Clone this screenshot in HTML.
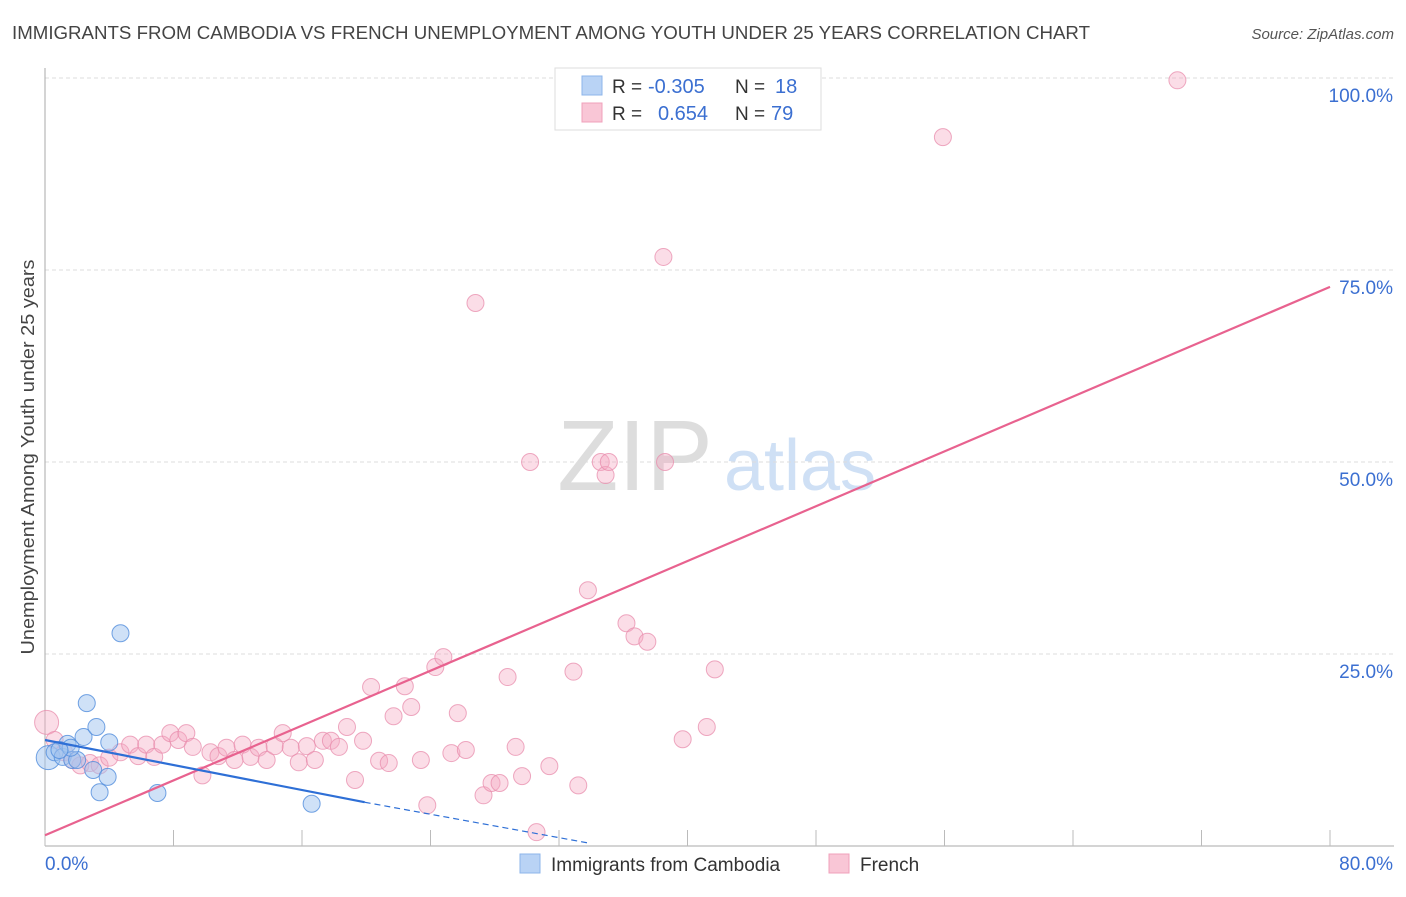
<!DOCTYPE html>
<html><head><meta charset="utf-8"><style>
body{margin:0;background:#fff;font-family:"Liberation Sans",sans-serif;}
svg text{font-family:"Liberation Sans",sans-serif;}
</style></head><body>
<svg id="chart" width="1406" height="892" viewBox="0 0 1406 892">
<text x="12" y="39" font-size="18" fill="#444" textLength="1078" lengthAdjust="spacingAndGlyphs">IMMIGRANTS FROM CAMBODIA VS FRENCH UNEMPLOYMENT AMONG YOUTH UNDER 25 YEARS CORRELATION CHART</text>
<text x="1394" y="39" font-size="15" fill="#555" text-anchor="end" font-style="italic">Source: ZipAtlas.com</text>
<g>
<text x="635" y="490" font-size="100" fill="#ddd" text-anchor="middle" font-family="Liberation Serif">ZIP</text>
<text x="800" y="490" font-size="72" fill="#cfe0f5" text-anchor="middle">atlas</text>
</g>
<g id="grid"></g>
<g id="axes"></g>
<g id="marks"></g>
<text transform="translate(34,457) rotate(-90)" font-size="18" fill="#444" text-anchor="middle" textLength="395" lengthAdjust="spacingAndGlyphs">Unemployment Among Youth under 25 years</text>
<g>
<rect x="555" y="68" width="266" height="62" fill="#fff" stroke="#ddd"/>
<rect x="582" y="76" width="20" height="19" fill="#b9d3f5" stroke="#8db4ea"/>
<rect x="582" y="103" width="20" height="19" fill="#f9c6d6" stroke="#f0a0bb"/>
<text x="612" y="93" font-size="19" fill="#333">R =</text>
<text x="648" y="93" font-size="20" fill="#3b6fd1">-0.305</text>
<text x="735" y="93" font-size="19" fill="#333">N =</text>
<text x="775" y="93" font-size="20" fill="#3b6fd1">18</text>
<text x="612" y="120" font-size="19" fill="#333">R =</text>
<text x="658" y="120" font-size="20" fill="#3b6fd1">0.654</text>
<text x="735" y="120" font-size="19" fill="#333">N =</text>
<text x="771" y="120" font-size="20" fill="#3b6fd1">79</text>
</g>
<g>
<rect x="520" y="854" width="20" height="19" fill="#b9d3f5" stroke="#8db4ea"/>
<text x="551" y="871" font-size="19" fill="#333">Immigrants from Cambodia</text>
<rect x="829" y="854" width="20" height="19" fill="#f9c6d6" stroke="#f0a0bb"/>
<text x="860" y="871" font-size="19" fill="#333">French</text>
</g>
</svg>
<script>
const blueX=[0.2,0.6,1.1,1.4,1.7,2.0,2.4,2.6,3.2,3.0,3.4,3.9,4.0,4.7,7.0,16.6,1.6,0.9];
const blueY=[11.5,12.2,11.6,13.3,11.2,11.2,14.2,18.6,15.5,9.9,7.0,9.0,13.5,27.7,6.9,5.5,12.8,12.5];
const pinkX=[0.1,0.6,1.2,1.7,2.2,2.8,3.4,4.0,4.7,5.3,5.8,6.3,6.8,7.3,7.8,8.3,8.8,9.2,9.8,10.3,10.8,11.3,11.8,12.3,12.8,13.3,13.8,14.3,14.8,15.3,15.8,16.3,16.8,17.3,17.8,18.3,18.8,19.3,19.8,20.3,20.8,21.4,21.7,22.4,22.8,23.4,23.8,24.3,24.8,25.3,25.7,26.2,26.8,27.3,27.8,28.3,28.8,29.3,29.7,30.2,30.6,31.4,32.9,33.2,33.8,34.6,34.9,35.1,36.2,36.7,37.5,38.5,38.6,39.7,41.2,41.7,55.9,70.5];
const pinkY=[16.1,13.8,12.2,11.2,10.5,10.8,10.5,11.5,12.2,13.2,11.7,13.2,11.6,13.2,14.7,13.8,14.7,12.9,9.2,12.2,11.7,12.8,11.2,13.2,11.6,12.8,11.2,13.0,14.7,12.8,10.9,13.0,11.2,13.7,13.7,12.9,15.5,8.6,13.7,20.7,11.1,10.8,16.9,20.8,18.1,11.2,5.3,23.3,24.6,12.1,17.3,12.5,70.7,6.6,8.2,8.2,22.0,12.9,9.1,50.0,1.8,10.4,22.7,7.9,33.3,50.0,48.3,50.0,29.0,27.3,26.6,76.7,50.0,13.9,15.5,23.0,92.3,99.7];
const blueTrend=[[0,13.8],[19.9,5.7],[33.8,0.4]];
const pinkTrend=[[0,1.4],[80,72.8]];
const yTicks=[25,50,75,100];
const yTickLabels=["25.0%","50.0%","75.0%","100.0%"];
const xTicks=[0,8,16,24,32,40,48,56,64,72,80];

const NS="http://www.w3.org/2000/svg";
const sx=v=>45+v*(1330-45)/80;
const sy=v=>846-v*7.68;
function mk(tag,attrs,parent){const e=document.createElementNS(NS,tag);for(const k in attrs)e.setAttribute(k,attrs[k]);parent.appendChild(e);return e;}
const grid=document.getElementById('grid'),axes=document.getElementById('axes'),marks=document.getElementById('marks');
yTicks.forEach((t,i)=>{
  const l=mk('line',{x1:45,x2:1394,y1:sy(t),y2:sy(t),stroke:'#ddd','stroke-dasharray':'4,3'},grid);
  
  
  const tx=mk('text',{x:1393,y:sy(t)+24,'font-size':19,fill:'#3b6fd1','text-anchor':'end'},axes);
  tx.textContent=yTickLabels[i];
  
  
});
const al=mk('line',{x1:45,x2:45,y1:68,y2:846,stroke:'#aaa'},axes);


const bl=mk('line',{x1:45,x2:1394,y1:846,y2:846,stroke:'#aaa'},axes);


xTicks.forEach(t=>{
  const l=mk('line',{x1:sx(t),x2:sx(t),y1:830,y2:846,stroke:'#bbb'},axes);
  
  
});
const x0=mk('text',{x:45,y:870,'font-size':19,fill:'#3b6fd1'},axes);x0.textContent='0.0%';


const x1=mk('text',{x:1393,y:870,'font-size':19,fill:'#3b6fd1','text-anchor':'end'},axes);x1.textContent='80.0%';



pinkX.forEach((x,i)=>{
  const c=mk('circle',{cx:sx(x),cy:sy(pinkY[i]),r:i===0?12:8.5,fill:'rgba(246,170,196,0.4)',stroke:'rgba(232,140,172,0.75)','stroke-width':1},marks);
  
  
});
blueX.forEach((x,i)=>{
  const c=mk('circle',{cx:sx(x),cy:sy(blueY[i]),r:i===0?12:8.5,fill:'rgba(160,196,240,0.5)',stroke:'rgba(80,140,220,0.8)','stroke-width':1},marks);
  
  
});
const pl=mk('line',{x1:sx(pinkTrend[0][0]),y1:sy(pinkTrend[0][1]),x2:sx(pinkTrend[1][0]),y2:sy(pinkTrend[1][1]),stroke:'#e8628f','stroke-width':2.2},marks);


const b1=mk('line',{x1:sx(blueTrend[0][0]),y1:sy(blueTrend[0][1]),x2:sx(blueTrend[1][0]),y2:sy(blueTrend[1][1]),stroke:'#2e6fd6','stroke-width':2.2},marks);


const b2=mk('line',{x1:sx(blueTrend[1][0]),y1:sy(blueTrend[1][1]),x2:sx(blueTrend[2][0]),y2:sy(blueTrend[2][1]),stroke:'#2e6fd6','stroke-width':1.2,'stroke-dasharray':'6,4'},marks);


</script>
</body></html>
